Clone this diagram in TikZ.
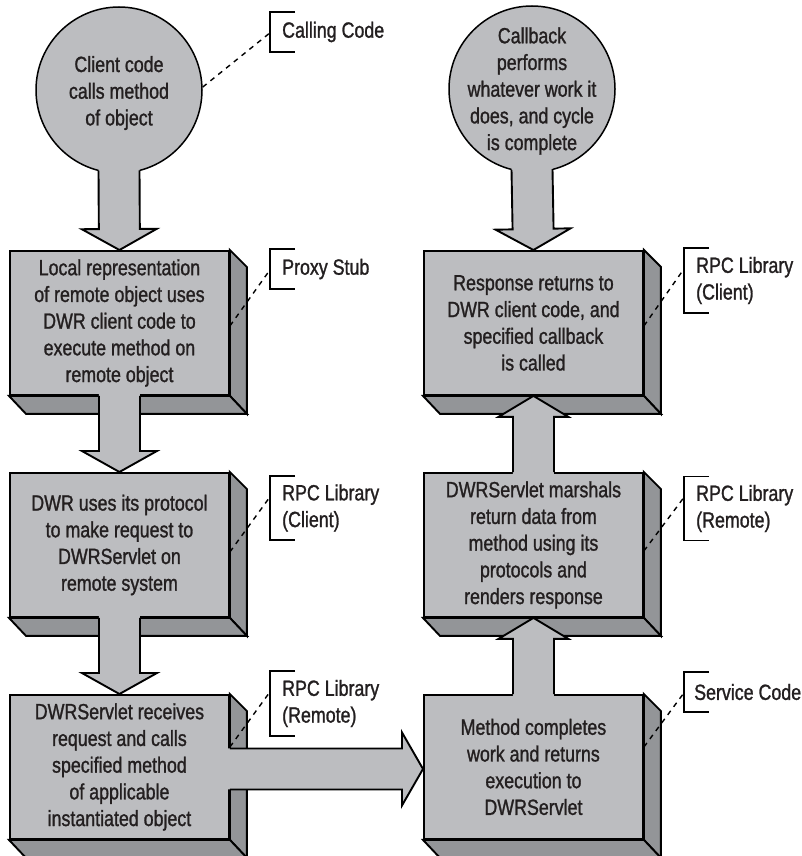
\documentclass[tikz,border=0pt]{standalone}
\usepackage{fontspec}
\setmainfont[FakeStretch=0.81, FakeBold=1.2]{Liberation Sans}
\usetikzlibrary{calc}
\definecolor{facegray}{RGB}{188,189,192}
\definecolor{sidegray}{RGB}{147,149,152}
\definecolor{ink}{RGB}{35,31,32}
\newcommand\bodyfont{\fontsize{22}{26.7}\selectfont}

\tikzset{
  face/.style={fill=facegray, draw=black, line width=1.9pt},
  boxface/.style={face, rectangle, minimum width=219pt, minimum height=144pt,
    anchor=north west, align=center, inner sep=0pt, font=\bodyfont, text=ink},
  sideface/.style={fill=sidegray, draw=black, line width=1.9pt, line join=miter},
  bubble/.style={circle, fill=facegray, draw=black, line width=1.5pt,
    minimum size=166pt, inner sep=0pt},
  bubbletext/.style={align=center, inner sep=0pt, font=\bodyfont, text=ink},
  tag/.style={anchor=west, align=left, inner xsep=12pt, inner ysep=0pt,
    font=\bodyfont, text=ink},
  leader/.style={dash pattern=on 5pt off 5pt, line width=1.4pt},
  brace/.style={line width=1.5pt},
  arrowline/.style={draw=black, line width=1.9pt, line join=miter},
}

% 3D box: front node already placed, draw right and bottom faces
\newcommand\boxsides[1]{%
  \draw[sideface] (#1.north east) -- ++(17,17) -- ($(#1.south east)+(17,18)$) -- (#1.south east) -- cycle;
  \draw[sideface] (#1.south west) -- (#1.south east) -- ($(#1.south east)+(17,18)$) -- ($(#1.south west)+(17,18)$) -- cycle;
}

% block arrow: #1 fill start, #2 stroke start, #3 tip, #4 head half width
\newcommand\blockarrow[4]{%
  \coordinate (ba-f) at #1;
  \coordinate (ba-s) at #2;
  \coordinate (ba-t) at #3;
  \coordinate (ba-h) at ($(ba-t)!21pt!(ba-s)$);
  \fill[facegray] ($(ba-f)!20.5pt!90:(ba-t)$) -- ($(ba-h)!20.5pt!90:(ba-t)$)
    -- ($(ba-h)!#4!90:(ba-t)$) -- (ba-t) -- ($(ba-h)!#4!-90:(ba-t)$)
    -- ($(ba-h)!20.5pt!-90:(ba-t)$) -- ($(ba-f)!20.5pt!-90:(ba-t)$) -- cycle;
  \draw[arrowline] ($(ba-s)!20.5pt!90:(ba-t)$) -- ($(ba-h)!20.5pt!90:(ba-t)$)
    -- ($(ba-h)!#4!90:(ba-t)$) -- (ba-t) -- ($(ba-h)!#4!-90:(ba-t)$)
    -- ($(ba-h)!20.5pt!-90:(ba-t)$) -- ($(ba-s)!20.5pt!-90:(ba-t)$);
}

% label with bracket
\newcommand\tagbracket[1]{%
  \draw[brace] ([xshift=25pt]#1.north west) -- (#1.north west) -- (#1.south west) -- ([xshift=25pt]#1.south west);
}

\begin{document}
\begin{tikzpicture}[x=1pt, y=-1pt]
\useasboundingbox (0,0) rectangle (802,856);
\fill[white] (0,0) rectangle (802,856);

% front faces
\node[boxface] (b1) at (9,250) {Local representation\\of remote object uses\\DWR client code to\\execute method on\\remote object};
\node[boxface] (b2) at (9,472) {DWR uses its protocol\\to make request to\\DWRServlet on\\remote system};
\node[boxface] (b3) at (9,694) {DWRServlet receives\\request and calls\\specified method\\of applicable\\instantiated object};
\node[boxface] (r1) at (423,250) {Response returns to\\DWR client code, and\\specified callback\\is called};
\node[boxface] (r2) at (423,472) {DWRServlet marshals\\return data from\\method using its\\protocols and\\renders response};
\node[boxface] (r3) at (423,694) {Method completes\\work and returns\\execution to\\DWRServlet};

\boxsides{b1}
\boxsides{b2}
\boxsides{b3}
\boxsides{r1}
\boxsides{r2}
\boxsides{r3}

% circles
\node[bubble] (c1) at (119,90) {};
\node[bubble] (c2) at (532,89) {};

% block arrows
\blockarrow{($(c1.center)+(0,65)$)}{($(c1.center)+(0,80.4)$)}{(b1.north)}{37.5pt}
\blockarrow{($(c2.center)+(0,65)$)}{($(c2.center)+(0,80.4)$)}{(r1.north)}{37.5pt}
\blockarrow{($(b1.south)+(0,-6)$)}{(b1.south)}{(b2.north)}{37.5pt}
\blockarrow{($(b2.south)+(0,-6)$)}{(b2.south)}{(b3.north)}{37.5pt}
\blockarrow{($(b3.east)+(-6,2)$)}{($(b3.east)+(0,2)$)}{($(r3.west)+(0,2)$)}{36.5pt}
\blockarrow{($(r3.north)+(0,6)$)}{(r3.north)}{(r2.south)}{35pt}
\blockarrow{($(r2.north)+(0,6)$)}{(r2.north)}{(r1.south)}{35pt}

% circle texts
\node[bubbletext] (c1t) at ($(c1.center)+(0,3)$) {Client code\\calls method\\of object};
\node[bubbletext] (c2t) at ($(c2.center)+(0,2)$) {Callback\\performs\\whatever work it\\does, and cycle\\is complete};

% labels
\node[tag, minimum height=40pt] (t1) at (270,32) {Calling Code};
\node[tag, minimum height=40pt] (t2) at (270,269) {Proxy Stub};
\node[tag, minimum height=64pt] (t3) at (270,508) {RPC Library\\(Client)};
\node[tag, minimum height=65pt] (t4) at (270,703.5) {RPC Library\\(Remote)};
\node[tag, minimum height=65pt] (t5) at (684,280.5) {RPC Library\\(Client)};
\node[tag, minimum height=64pt] (t6) at (684,508.5) {RPC Library\\(Remote)};
\node[tag, minimum height=40pt, inner xsep=10pt] (t7) at (684,692) {Service Code};

\tagbracket{t1}
\tagbracket{t2}
\tagbracket{t3}
\tagbracket{t4}
\tagbracket{t5}
\tagbracket{t6}
\tagbracket{t7}

% leaders
\draw[leader] (c1.2) -- ([yshift=-21pt]t1.north west);
\draw[leader] ($(b1.east)+(0,3)$) -- ([yshift=-21pt]t2.north west);
\draw[leader] ($(b2.east)+(0,7)$) -- ([yshift=-21pt]t3.north west);
\draw[leader] ($(b3.north east)+(0,53)$) -- ([yshift=-21pt]t4.north west);
\draw[leader] ($(r1.east)+(0,3)$) -- ([yshift=-21pt]t5.north west);
\draw[leader] ($(r2.east)+(0,6)$) -- ([yshift=-21pt]t6.north west);
\draw[leader] ($(r3.north east)+(0,53)$) -- ([yshift=-21pt]t7.north west);
\end{tikzpicture}
\end{document}
